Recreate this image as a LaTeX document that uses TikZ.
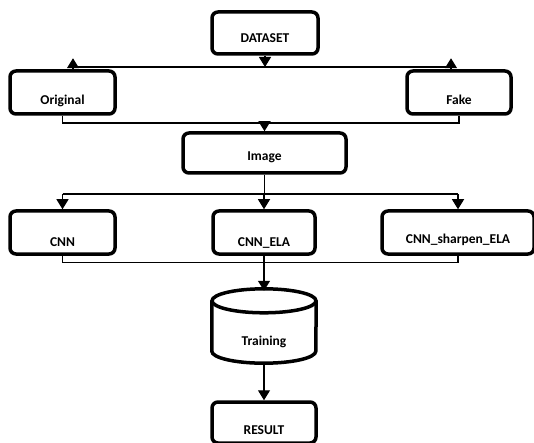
\documentclass[tikz,border=0pt]{standalone}
\usepackage{fontspec}
\setmainfont{Carlito}
\usetikzlibrary{arrows.meta}
\begin{document}
\begin{tikzpicture}[x=1pt,y=1pt,
		box/.style={draw,line width=3.5pt,rounded corners=6pt,inner sep=0pt,
			font=\fontsize{13.5}{15}\selectfont\bfseries},
		line/.style={line width=1.2pt},
		arrow/.style={line width=1.2pt,-{Triangle[width=12pt,length=10pt]}}]
		\fill[white] (0,0) rectangle (534,-443);
		\useasboundingbox (0,0) rectangle (534,-443);
		
		\node[box,minimum width=106pt,text height=31pt,text depth=11pt] (dataset) at (265,-33) {DATASET};
		\node[box,minimum width=105pt,text height=34pt,text depth=9pt] (orig) at (62.5,-92.5) {Original};
		\node[box,minimum width=104pt,text height=34pt,text depth=9pt] (fake) at (459,-92.5) {Fake};
		\node[box,minimum width=163pt,text height=28pt,text depth=12pt] (image) at (264.5,-153) {Image};
		\node[box,minimum width=105pt,text height=35pt,text depth=8pt] (cnn) at (62.5,-232.5) {CNN};
		\node[box,minimum width=102pt,text height=35pt,text depth=8pt] (cnnela) at (264,-232.5) {CNN\_ELA};
		\node[box,minimum width=152pt,text height=32pt,text depth=11pt] (cnnsharp) at (458,-232.5) {CNN\_sharpen\_ELA};
		\node[inner sep=0pt,minimum width=104pt,text height=56pt,text depth=18pt,
			font=\fontsize{13.5}{15}\selectfont\bfseries] (train) at (264,-326) {Training};
		\node[box,minimum width=104pt,text height=32pt,text depth=9pt] (result) at (264,-422.5) {RESULT};
		
		% cylinder
		\draw[line width=3.5pt] ([yshift=-12pt]train.north) ellipse [x radius=52pt,y radius=12pt];
		\draw[line width=3.5pt] ([yshift=-12pt]train.north west) -- ([yshift=12pt]train.south west)
			arc[start angle=180,end angle=360,x radius=52pt,y radius=12pt] -- ([yshift=-12pt]train.north east);
		
		\coordinate (bus1L) at (68,-67);
		\coordinate (bus1R) at (452,-67);
		\coordinate (bus2) at (0,-123);
		\coordinate (bus3) at (0,-194);
		
		\draw[line] (bus1L) -- (bus1R);
		\draw[arrow] (dataset.south) -- (dataset.south |- bus1L);
		\draw[arrow] ([xshift=10.5pt]orig.north) -- ++(0,11);
		\draw[arrow] ([xshift=-8pt]fake.north) -- ++(0,11);
		
		\draw[line] (orig.south) -- (orig.south |- bus2) -| (fake.south);
		\draw[arrow] (image.north |- bus2) -- (image.north);
		
		\draw[line] (image.south) -- (image.south |- bus3);
		\draw[line] (cnn.north |- bus3) -- (cnnsharp.north |- bus3);
		\draw[arrow] (cnn.north |- bus3) -- (cnn.north);
		\draw[arrow] (cnnela.north |- bus3) -- (cnnela.north);
		\draw[arrow] (cnnsharp.north |- bus3) -- (cnnsharp.north);
		
		\draw[line] (cnn.south) -- ++(0,-7) -| (cnnsharp.south);
		\draw[arrow] (cnnela.south) -- ([yshift=-2pt]train.north);
		\draw[arrow] (train.south) -- (result.north);
	\end{tikzpicture}
\end{document}
